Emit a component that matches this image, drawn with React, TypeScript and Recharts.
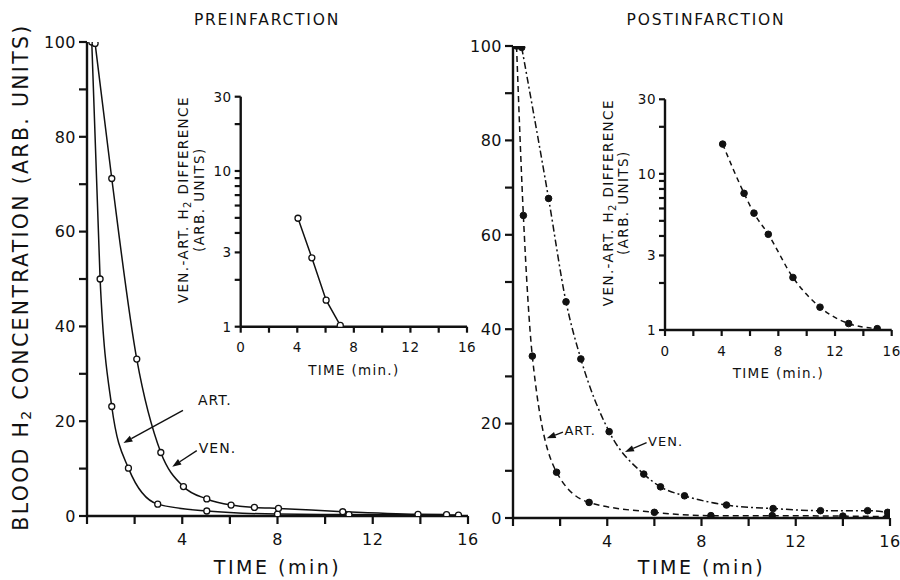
import React from 'react';
import { LineChart, Line, XAxis, YAxis, Label, ReferenceLine } from 'recharts';

const FONT = '"DejaVu Sans", "Liberation Sans", sans-serif';
const INK = '#111';

// Blood H2 concentration (arb. units) against time (min), before infarction
const preArterial = [
  { t: 0.2, v: 100 }, { t: 0.55, v: 50 }, { t: 1.04, v: 23.1 }, { t: 1.74, v: 10.1 },
  { t: 2.97, v: 2.5 }, { t: 5.03, v: 1.05 }, { t: 8.0, v: 0.4 }, { t: 11.0, v: 0.3 },
  { t: 15.6, v: 0.2 },
];
const preVenous = [
  { t: 0.34, v: 99.7 }, { t: 1.04, v: 71.2 }, { t: 2.09, v: 33.1 }, { t: 3.1, v: 13.4 },
  { t: 4.05, v: 6.2 }, { t: 5.03, v: 3.6 }, { t: 6.05, v: 2.3 }, { t: 7.03, v: 1.8 },
  { t: 8.04, v: 1.6 }, { t: 10.74, v: 0.9 }, { t: 13.9, v: 0.35 }, { t: 15.1, v: 0.3 },
];
// Venous minus arterial H2 difference, before infarction
const preDifference = [
  { t: 4.05, v: 4.97 }, { t: 5.03, v: 2.77 }, { t: 6.04, v: 1.48 }, { t: 7.04, v: 1.02 },
];

// Same measurements after infarction
const postArterial = [
  { t: 0.15, v: 100 }, { t: 0.44, v: 64.1 }, { t: 0.82, v: 34.3 }, { t: 1.85, v: 9.7 },
  { t: 3.23, v: 3.3 }, { t: 6.0, v: 1.2 }, { t: 8.4, v: 0.5 }, { t: 11.0, v: 0.5 },
  { t: 14.0, v: 0.4 }, { t: 15.9, v: 0.3 },
];
const postVenous = [
  { t: 0.37, v: 99.7 }, { t: 1.51, v: 67.7 }, { t: 2.25, v: 45.8 }, { t: 2.88, v: 33.7 },
  { t: 4.08, v: 18.3 }, { t: 5.55, v: 9.3 }, { t: 6.26, v: 6.6 }, { t: 7.28, v: 4.7 },
  { t: 9.06, v: 2.75 }, { t: 11.04, v: 2.0 }, { t: 13.05, v: 1.55 }, { t: 15.05, v: 1.55 },
  { t: 15.9, v: 1.2 },
];
const postDifference = [
  { t: 4.07, v: 15.5 }, { t: 5.58, v: 7.5 }, { t: 6.28, v: 5.6 }, { t: 7.29, v: 4.1 },
  { t: 9.03, v: 2.17 }, { t: 10.94, v: 1.4 }, { t: 12.96, v: 1.1 }, { t: 14.98, v: 1.02 },
];

// Axis ticks and which of them carry a label
const timeTicks = [0, 2, 4, 6, 8, 10, 12, 14, 16];
const mainTimeLabels = [4, 8, 12, 16];
const insetTimeLabels = [0, 4, 8, 12, 16];
const concTicks = [0, 10, 20, 30, 40, 50, 60, 70, 80, 90, 100];
const concLabels = [0, 20, 40, 60, 80, 100];
const diffTicks = [1, 2, 3, 4, 5, 6, 7, 8, 9, 10, 20, 30];
const diffLabels = [1, 3, 10, 30];

// Curve call-outs: text plus an arrow from (t1, v1) to (t2, v2)
const preNotes = [
  { text: 'ART.', t1: 4.03, v1: 22.3, t2: 1.53, v2: 15.4 },
  { text: 'VEN.', t1: 4.61, v1: 13.8, t2: 3.58, v2: 10.4 },
];
const postNotes = [
  { text: 'ART.', t1: 2.12, v1: 18.2, t2: 1.43, v2: 16.9 },
  { text: 'VEN.', t1: 5.67, v1: 15.95, t2: 4.75, v2: 14.0 },
];
const preNoteOffsets = [[15, -10.7], [2, -2.7]];
const postNoteOffsets = [[1.5, -1.7], [1.5, -1]];

const axisLine = { stroke: INK, strokeWidth: 2.4 };

// Tick renderers that draw their own tick mark plus an optional label.
// Recharts hands over the label anchor; the mark sits between it and the axis.
function xTick(labels: number[], size: number, margin: number, fontSize: number, spacing: number) {
  return (p: any) => {
    const { x, y, payload } = p;
    const v = payload.value;
    const top = y - margin - size;
    return (
      <g>
        <line x1={x} y1={top} x2={x} y2={y - margin} stroke={INK} strokeWidth={2.2} />
        {labels.includes(v) ? (
          <text
            x={x}
            y={y}
            dy="0.71em"
            textAnchor="middle"
            fontFamily={FONT}
            fontSize={fontSize}
            letterSpacing={spacing}
            fill={INK}
          >
            {String(v)}
          </text>
        ) : null}
      </g>
    );
  };
}

function yTick(labels: number[], size: number, margin: number, fontSize: number, spacing: number) {
  return (p: any) => {
    const { x, y, payload } = p;
    const v = payload.value;
    const axisX = x + margin + size;
    return (
      <g>
        <line x1={axisX - size} y1={y} x2={axisX} y2={y} stroke={INK} strokeWidth={2.2} />
        {labels.includes(v) ? (
          <text
            x={x}
            y={y}
            dy="0.36em"
            textAnchor="end"
            fontFamily={FONT}
            fontSize={fontSize}
            letterSpacing={spacing}
            fill={INK}
          >
            {String(v)}
          </text>
        ) : null}
      </g>
    );
  };
}

function arrowShape(text: string, dx: number, dy: number, size: number) {
  return (p: any) => {
    const { x1, y1, x2, y2 } = p;
    const ang = Math.atan2(y2 - y1, x2 - x1);
    const L = 9;
    const W = 3.2;
    const bx = x2 - L * Math.cos(ang);
    const by = y2 - L * Math.sin(ang);
    const nx = -Math.sin(ang);
    const ny = Math.cos(ang);
    const pts = `${x2},${y2} ${bx + nx * W},${by + ny * W} ${bx - nx * W},${by - ny * W}`;
    return (
      <g>
        <line x1={x1} y1={y1} x2={bx} y2={by} stroke={INK} strokeWidth={1.4} />
        <polygon points={pts} fill={INK} />
        <text
          x={x1 + dx}
          y={y1 + dy}
          dominantBaseline="central"
          fontFamily={FONT}
          fontSize={size}
          letterSpacing={1}
          fill={INK}
        >
          {text}
        </text>
      </g>
    );
  };
}

function notes(list: typeof preNotes, offsets: number[][], size: number) {
  return list.map((n, i) => (
    <ReferenceLine
      key={n.text}
      segment={[{ x: n.t1, y: n.v1 }, { x: n.t2, y: n.v2 }]}
      ifOverflow="visible"
      shape={arrowShape(n.text, offsets[i][0], offsets[i][1], size)}
    />
  ));
}

const timeTitle = (dy: number) => (p: any) => {
  const vb = p.viewBox;
  return (
    <text
      x={vb.x + vb.width / 2}
      y={vb.y + dy}
      textAnchor="middle"
      fontFamily={FONT}
      fontSize={19}
      letterSpacing={2.5}
      fill={INK}
    >
      TIME (min)
    </text>
  );
};

const insetTimeTitle = (p: any) => {
  const vb = p.viewBox;
  return (
    <text
      x={vb.x + vb.width / 2}
      y={vb.y + 48}
      textAnchor="middle"
      fontFamily={FONT}
      fontSize={13.5}
      letterSpacing={1.3}
      fill={INK}
    >
      TIME (min.)
    </text>
  );
};

const concTitle = (p: any) => {
  const vb = p.viewBox;
  const x = vb.x - 6;
  const y = vb.y + vb.height / 2 - 2;
  return (
    <text
      transform={`translate(${x},${y}) rotate(-90)`}
      textAnchor="middle"
      dominantBaseline="central"
      fontFamily={FONT}
      fontSize={20.5}
      letterSpacing={2.3}
      fill={INK}
    >
      BLOOD  H<tspan dy={5} fontSize={14}>2</tspan>
      <tspan dy={-5}> CONCENTRATION (ARB. UNITS)</tspan>
    </text>
  );
};

const diffTitle = (p: any) => {
  const vb = p.viewBox;
  const ax = vb.x + vb.width;
  const y = vb.y + vb.height / 2 - 12;
  const common = {
    textAnchor: 'middle' as const,
    dominantBaseline: 'central' as const,
    fontFamily: FONT,
    fontSize: 13.5,
    letterSpacing: 1.4,
    fill: INK,
  };
  return (
    <g>
      <text transform={`translate(${ax - 57.5},${y}) rotate(-90)`} {...common}>
        VEN.-ART. H<tspan dy={4} fontSize={10}>2</tspan>
        <tspan dy={-4}> DIFFERENCE</tspan>
      </text>
      <text transform={`translate(${ax - 42},${y}) rotate(-90)`} {...common}>
        (ARB. UNITS)
      </text>
    </g>
  );
};

const openDot = { r: 3, fill: '#fff', stroke: INK, strokeWidth: 1.3, strokeDasharray: '0' };
const solidDot = { r: 3.3, fill: INK, stroke: INK, strokeWidth: 1, strokeDasharray: '0' };

function MainPanel(props: {
  left: number;
  width: number;
  margin: { top: number; right: number; bottom: number; left: number };
  arterial: { t: number; v: number }[];
  venous: { t: number; v: number }[];
  post: boolean;
  withTitle: boolean;
  titleDy: number;
}) {
  const { post } = props;
  return (
    <div style={{ position: 'absolute', left: props.left, top: 0 }}>
      <LineChart width={props.width} height={580} margin={props.margin}>
        <XAxis
          type="number"
          dataKey="t"
          domain={[0, 16]}
          ticks={timeTicks}
          interval={0}
          allowDataOverflow
          height={40}
          tickSize={8}
          tickMargin={10}
          axisLine={axisLine}
          tickLine={false}
          tick={xTick(mainTimeLabels, 8, 10, 16, 0.5)}
        >
          <Label content={timeTitle(props.titleDy)} />
        </XAxis>
        <YAxis
          type="number"
          domain={[0, 100]}
          ticks={concTicks}
          interval={0}
          allowDataOverflow
          width={60}
          tickSize={8}
          tickMargin={3}
          axisLine={axisLine}
          tickLine={false}
          tick={yTick(concLabels, 8, 3, 16, 0.5)}
        >
          {props.withTitle ? <Label content={concTitle} /> : null}
        </YAxis>
        <Line
          data={props.arterial}
          dataKey="v"
          type="monotone"
          stroke={INK}
          strokeWidth={1.5}
          strokeDasharray={post ? '6 4' : undefined}
          dot={post ? solidDot : openDot}
          isAnimationActive={false}
        />
        <Line
          data={props.venous}
          dataKey="v"
          type="monotone"
          stroke={INK}
          strokeWidth={1.5}
          strokeDasharray={post ? '7 3 2 3' : undefined}
          dot={post ? solidDot : openDot}
          isAnimationActive={false}
        />
        {post ? notes(postNotes, postNoteOffsets, 13) : notes(preNotes, preNoteOffsets, 14)}
      </LineChart>
    </div>
  );
}

function InsetPanel(props: {
  left: number;
  top: number;
  margin: { top: number; right: number; bottom: number; left: number };
  data: { t: number; v: number }[];
  post: boolean;
}) {
  const { post } = props;
  return (
    <div style={{ position: 'absolute', left: props.left, top: props.top }}>
      <LineChart width={320} height={320} margin={props.margin}>
        <XAxis
          type="number"
          dataKey="t"
          domain={[0, 16]}
          ticks={timeTicks}
          interval={0}
          allowDataOverflow
          height={35}
          tickSize={6}
          tickMargin={10}
          axisLine={axisLine}
          tickLine={false}
          tick={xTick(insetTimeLabels, 6, 10, 13.5, 0.5)}
        >
          <Label content={insetTimeTitle} />
        </XAxis>
        <YAxis
          type="number"
          scale="log"
          domain={[1, 30]}
          ticks={diffTicks}
          interval={0}
          allowDataOverflow
          width={40}
          tickSize={6}
          tickMargin={3}
          axisLine={axisLine}
          tickLine={false}
          tick={yTick(diffLabels, 6, 3, 13.5, 0.5)}
        >
          <Label content={diffTitle} />
        </YAxis>
        <Line
          data={props.data}
          dataKey="v"
          type={post ? 'monotone' : 'linear'}
          stroke={INK}
          strokeWidth={1.5}
          strokeDasharray={post ? '5 4' : undefined}
          dot={post ? solidDot : openDot}
          isAnimationActive={false}
        />
      </LineChart>
    </div>
  );
}

export default function App() {
  const titleStyle = {
    fontFamily: FONT,
    fontSize: 15.5,
    letterSpacing: 1.8,
    fill: INK,
  };
  return (
    <div
      style={{
        position: 'absolute',
        left: 0,
        top: 0,
        width: 900,
        height: 580,
        background: '#fff',
        overflow: 'hidden',
      }}
    >
      <MainPanel
        left={0}
        width={480}
        margin={{ top: 42, right: 12, bottom: 24, left: 27 }}
        arterial={preArterial}
        venous={preVenous}
        post={false}
        withTitle
        titleDy={58}
      />
      <MainPanel
        left={440}
        width={460}
        margin={{ top: 46, right: 10, bottom: 22, left: 13 }}
        arterial={postArterial}
        venous={postVenous}
        post
        withTitle={false}
        titleDy={56}
      />
      <InsetPanel
        left={160}
        top={60}
        margin={{ top: 36.7, right: 13, bottom: 18.3, left: 40.7 }}
        data={preDifference}
        post={false}
      />
      <InsetPanel
        left={580}
        top={60}
        margin={{ top: 39.3, right: 8.3, bottom: 15, left: 45 }}
        data={postDifference}
        post
      />
      <svg
        width={900}
        height={40}
        style={{ position: 'absolute', left: 0, top: 0, pointerEvents: 'none' }}
      >
        <text x={267} y={25} textAnchor="middle" {...titleStyle}>
          PREINFARCTION
        </text>
        <text x={706} y={25} textAnchor="middle" {...titleStyle}>
          POSTINFARCTION
        </text>
      </svg>
    </div>
  );
}
